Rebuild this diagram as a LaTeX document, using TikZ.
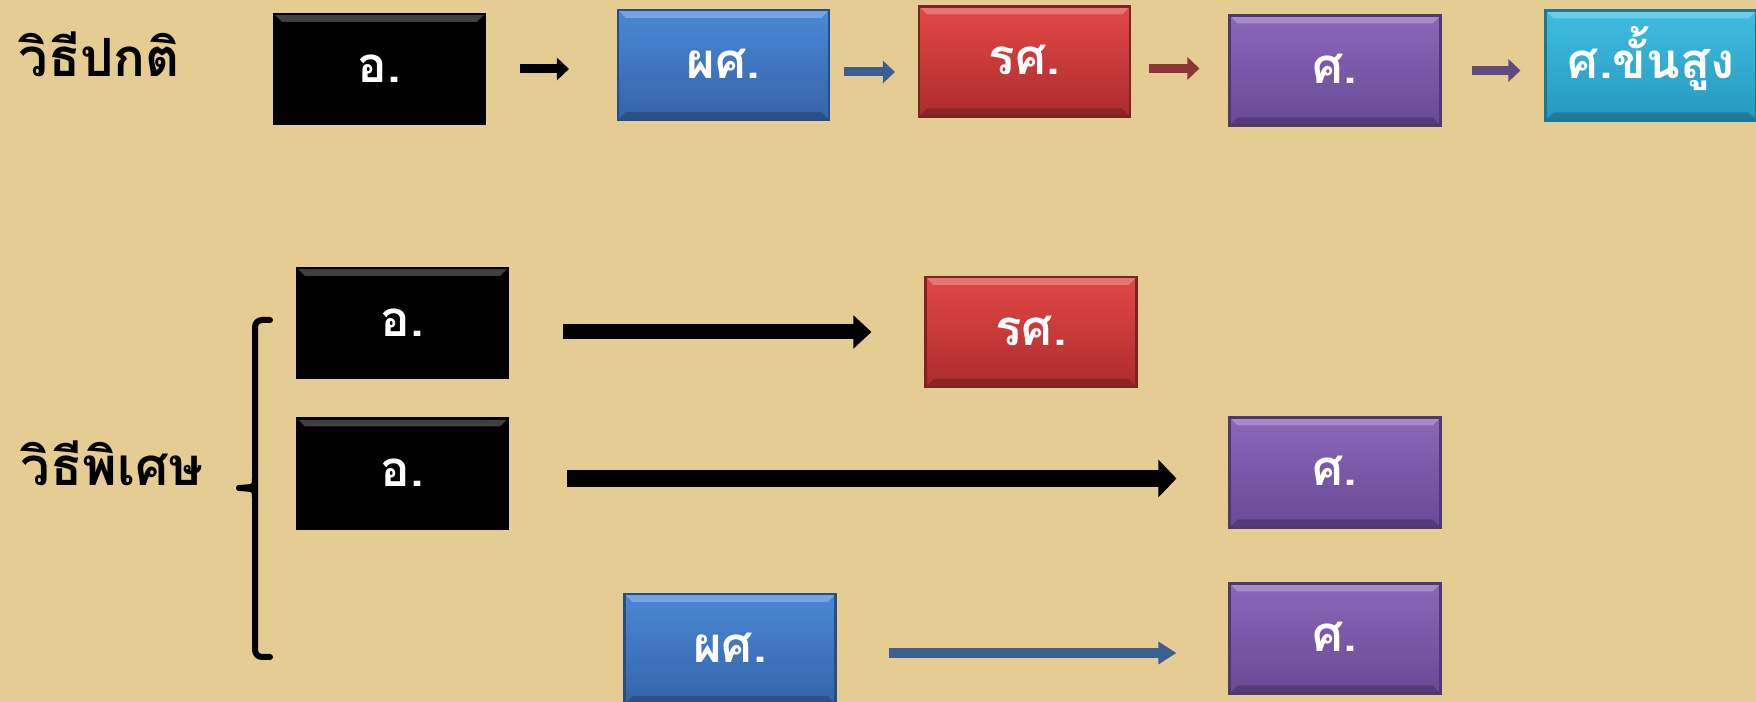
\documentclass[tikz,border=0pt]{standalone}
\usepackage{fontspec}
\newfontfamily\thaifont[Script=Thai]{Loma}
\usepackage{tikz}
\usetikzlibrary{arrows.meta,       % pointes de fleches
                positioning}
\definecolor{bg}{RGB}{228,204,146}
\definecolor{psTop}{RGB}{74,136,214}
\definecolor{psBot}{RGB}{52,100,168}
\definecolor{psEdge}{RGB}{40,78,135}
\definecolor{rsTop}{RGB}{226,72,70}
\definecolor{rsBot}{RGB}{172,44,44}
\definecolor{rsEdge}{RGB}{125,35,35}
\definecolor{sTop}{RGB}{138,104,184}
\definecolor{sBot}{RGB}{104,74,150}
\definecolor{sEdge}{RGB}{78,58,112}
\definecolor{ssTop}{RGB}{62,190,225}
\definecolor{ssBot}{RGB}{38,152,190}
\definecolor{ssEdge}{RGB}{28,118,150}
\definecolor{arPS}{RGB}{60,95,145}
\definecolor{arRS}{RGB}{140,55,55}
\definecolor{arS}{RGB}{95,75,130}

\begin{document}
\begin{tikzpicture}[
  bevel/.style={path picture={
    \fill[white,opacity=.25](path picture bounding box.north west)--(path picture bounding box.north east)--([shift={(-.08,-.08)}]path picture bounding box.north east)--([shift={(.08,-.08)}]path picture bounding box.north west)--cycle;
    \fill[black,opacity=.2](path picture bounding box.south west)--(path picture bounding box.south east)--([shift={(-.08,.08)}]path picture bounding box.south east)--([shift={(.08,.08)}]path picture bounding box.south west)--cycle;}},
  box/.style={rectangle,minimum width=2.11cm,minimum height=1.10cm,inner sep=0pt,text height=.27cm,text depth=0pt,text=white,font=\thaifont\bfseries\fontsize{14}{14}\selectfont,line width=.6pt,bevel},
  boxA/.style={box,fill=black,draw=black},
  boxPS/.style={box,top color=psTop,bottom color=psBot,draw=psEdge},
  boxRS/.style={box,top color=rsTop,bottom color=rsBot,draw=rsEdge},
  boxS/.style={box,top color=sTop,bottom color=sBot,draw=sEdge},
  boxSS/.style={box,top color=ssTop,bottom color=ssBot,draw=ssEdge},
  title/.style={anchor=base west,inner sep=0pt,font=\thaifont\bfseries\fontsize{15}{15}\selectfont},
  arr/.style={line width=.09cm,-{Triangle[length=.12cm,width=.22cm]}},
  bigarr/.style={line width=#1,-{Triangle[length=.18cm,width=2.15*#1]}},
  brace/.style={line width=.06cm,line cap=round}]
\path[use as bounding box,fill=bg](0,0)rectangle(17.56,7.02);
% vithi pokati
\node[title](N)at(0.18,6.25){วิธีปกติ};
\node[boxA](Aj)at(3.795,6.33){อ.};
\node[boxPS](PS)at(7.235,6.37){ผศ.};
\node[boxRS](RS)at(10.245,6.405){รศ.};
\node[boxS](S)at(13.35,6.315){ศ.};
\node[boxSS](SS)at(16.51,6.365){ศ.ขั้นสูง};
\draw[arr,shorten <=.34cm,shorten >=.48cm](Aj.east)--(Aj.east-|PS.west);
\draw[arr,arPS,shorten <=.14cm,shorten >=.23cm]([yshift=-.07cm]PS.east)--([yshift=-.07cm]PS.east-|RS.west);
\draw[arr,arRS,shorten <=.18cm,shorten >=.29cm]([yshift=-.07cm]RS.east)--([yshift=-.07cm]RS.east-|S.west);
\draw[arr,arS,shorten <=.30cm,shorten >=.24cm](S.east)--(S.east-|SS.west);
% vithi phiset
\node[title](P)at(0.20,2.16){วิธีพิเศษ};
\draw[brace,rounded corners=2pt](2.70,3.82)-|(2.55,0.45)--(2.70,0.45);
\draw[brace](2.55,2.24)..controls(2.55,2.15)..(2.39,2.14);
\draw[brace](2.55,2.04)..controls(2.55,2.13)..(2.39,2.14);
\node[boxA](Aj1)at(4.025,3.79){อ.};
\node[boxA](Aj2)at(4.025,2.285){อ.};
\node[boxRS](RS2)at(10.31,3.70){รศ.};
\node[boxS](S2)at(13.35,2.295){ศ.};
\node[boxPS](PS2)at(7.30,0.53){ผศ.};
\node[boxS](S3)at(13.35,0.635){ศ.};
\draw[bigarr=.15cm,shorten <=.54cm,shorten >=.53cm](RS2.west-|Aj1.east)--(RS2.west);
\draw[bigarr=.17cm,shorten <=.58cm,shorten >=.52cm]([yshift=-.05cm]Aj2.east)--([yshift=-.05cm]Aj2.east-|S2.west);
\draw[bigarr=.10cm,arPS,shorten <=.52cm,shorten >=.52cm]([yshift=-.04cm]PS2.east)--([yshift=-.04cm]PS2.east-|S3.west);
\end{tikzpicture}
\end{document}
